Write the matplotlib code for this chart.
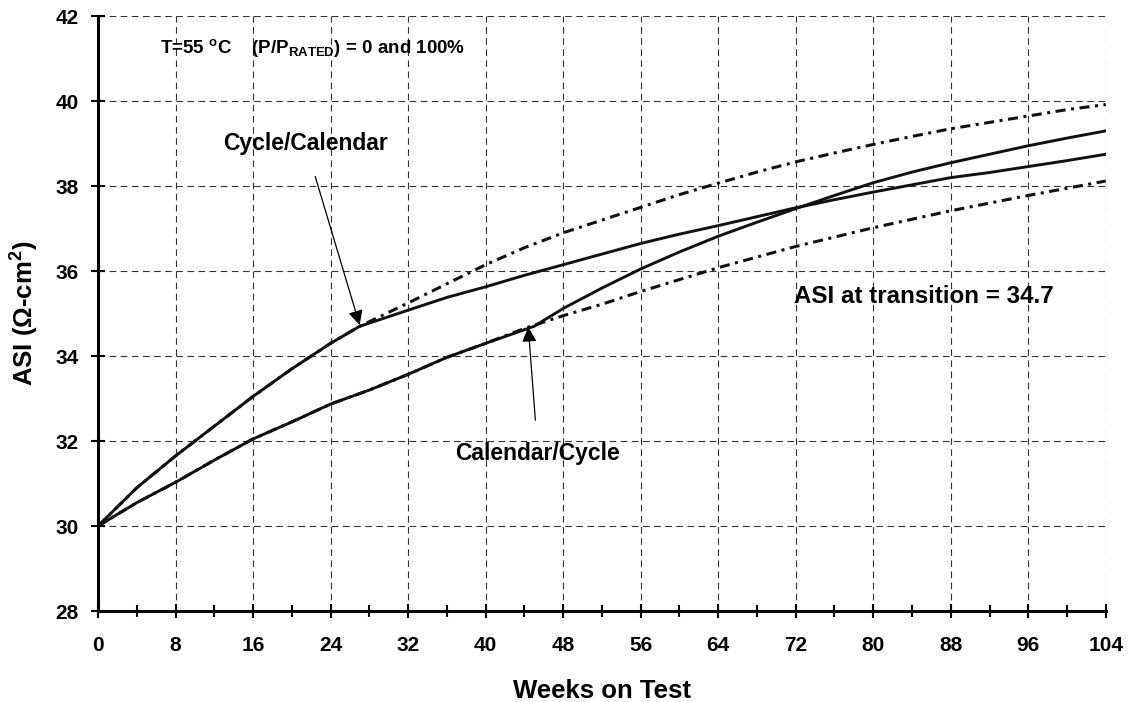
import matplotlib
matplotlib.use("Agg")
import matplotlib.pyplot as plt
from matplotlib.ticker import MultipleLocator

plt.rcParams['font.family'] = ['Liberation Sans', 'DejaVu Sans']
plt.rcParams['font.weight'] = 'bold'
plt.rcParams['mathtext.fontset'] = 'custom'
plt.rcParams['mathtext.rm'] = 'Liberation Sans:bold'
plt.rcParams['mathtext.bf'] = 'Liberation Sans:bold'
plt.rcParams['mathtext.it'] = 'Liberation Sans:bold'
plt.rcParams['mathtext.default'] = 'bf'

# cycle only (dashed, upper)
cycle_wk = [0, 4, 8, 12, 16, 20, 24, 27, 32, 36, 40, 44, 48, 52, 56, 60, 64, 68,
            72, 76, 80, 84, 88, 92, 96, 100, 104]
cycle_asi = [30.0, 30.9, 31.65, 32.35, 33.05, 33.7, 34.3, 34.7, 35.25, 35.7, 36.15,
             36.55, 36.9, 37.2, 37.5, 37.8, 38.07, 38.33, 38.57, 38.78, 38.98, 39.17,
             39.35, 39.5, 39.65, 39.8, 39.92]

# calendar only (dashed, lower)
cal_wk = [0, 4, 8, 12, 16, 20, 24, 28, 32, 36, 40, 44, 48, 52, 56, 60, 64, 68,
          72, 76, 80, 84, 88, 92, 96, 100, 104]
cal_asi = [30.0, 30.55, 31.03, 31.55, 32.05, 32.45, 32.87, 33.2, 33.57, 33.97, 34.3,
           34.65, 34.95, 35.22, 35.52, 35.8, 36.08, 36.33, 36.58, 36.8, 37.02, 37.22,
           37.42, 37.6, 37.78, 37.95, 38.12]

# cycle then calendar (solid)
cyc_cal_wk = [0, 4, 8, 12, 16, 20, 24, 27, 32, 36, 40, 44, 48, 52, 56, 60, 64, 68,
              72, 76, 80, 84, 88, 92, 96, 100, 104]
cyc_cal_asi = [30.0, 30.9, 31.65, 32.35, 33.05, 33.7, 34.3, 34.7, 35.08, 35.38, 35.63,
               35.9, 36.15, 36.4, 36.65, 36.87, 37.07, 37.28, 37.49, 37.68, 37.86,
               38.03, 38.2, 38.32, 38.46, 38.6, 38.75]

# calendar then cycle (solid)
cal_cyc_wk = [0, 4, 8, 12, 16, 20, 24, 28, 32, 36, 40, 44, 45, 48, 52, 56, 60, 64,
              68, 72, 76, 80, 84, 88, 92, 96, 100, 104]
cal_cyc_asi = [30.0, 30.55, 31.03, 31.55, 32.05, 32.45, 32.87, 33.2, 33.57, 33.97,
               34.3, 34.62, 34.7, 35.12, 35.6, 36.05, 36.45, 36.82, 37.15, 37.47,
               37.78, 38.08, 38.33, 38.55, 38.75, 38.95, 39.13, 39.3]

fig = plt.figure(figsize=(11.33, 7.02), dpi=100)
ax = fig.add_axes([0.0865, 0.1296, 0.8895, 0.8474])

dash = (0, (3.3, 1.8, 1.0, 1.8))
ax.plot(cycle_wk, cycle_asi, color='#111111', lw=2.2, linestyle=dash, zorder=3)
ax.plot(cal_wk, cal_asi, color='#111111', lw=2.2, linestyle=dash, zorder=3)
ax.plot(cyc_cal_wk, cyc_cal_asi, color='#111111', lw=2.1, zorder=4)
ax.plot(cal_cyc_wk, cal_cyc_asi, color='#111111', lw=2.1, zorder=4)

ax.set_xlim(0, 104)
ax.set_ylim(28, 42)
ax.xaxis.set_major_locator(MultipleLocator(8))
ax.xaxis.set_minor_locator(MultipleLocator(4))
ax.yaxis.set_major_locator(MultipleLocator(2))

ax.grid(True, which='major', color='#333333', lw=0.8, linestyle=(0, (6, 4)))
ax.spines['top'].set_visible(False)
ax.spines['right'].set_visible(False)
for s in ('left', 'bottom'):
    ax.spines[s].set_linewidth(2.2)
    ax.spines[s].set_zorder(5)

ax.tick_params(which='major', direction='inout', length=10, width=1.5,
               labelsize=15)
ax.tick_params(which='minor', direction='inout', length=8, width=1.5)
ax.tick_params(axis='x', which='major', pad=13)
ax.tick_params(axis='y', which='major', pad=9)
for lbl in ax.get_xticklabels() + ax.get_yticklabels():
    lbl.set_fontweight('bold')

ax.set_xlabel('Weeks on Test', fontsize=18.5, fontweight='bold')
ax.set_ylabel('ASI ($\\Omega$-cm$^2$)', fontsize=18.5, fontweight='bold')
ax.xaxis.set_label_coords(0.5, -0.115)
ax.yaxis.set_label_coords(-0.057, 0.5)

ax.text(6.4, 41.25, 'T=55 $^{o}$C    (P/P$_{RATED}$) = 0 and 100%',
        fontsize=13.5, fontweight='bold', va='center', ha='left')
ax.text(85.2, 35.4, 'ASI at transition = 34.7', fontsize=17.4,
        fontweight='bold', ha='center', va='center')

ax.annotate('Cycle/Calendar', xy=(27.0, 34.73), xytext=(21.4, 39.0),
            fontsize=16.5, fontweight='bold', ha='center', va='center',
            arrowprops=dict(arrowstyle='-|>', color='black', lw=0.9,
                            mutation_scale=22, shrinkA=14, shrinkB=0))
ax.annotate('Calendar/Cycle', xy=(44.4, 34.68), xytext=(45.4, 31.7),
            fontsize=16.5, fontweight='bold', ha='center', va='center',
            arrowprops=dict(arrowstyle='-|>', color='black', lw=0.9,
                            mutation_scale=22, shrinkA=14, shrinkB=0))

fig.savefig('out.png', dpi=100)
